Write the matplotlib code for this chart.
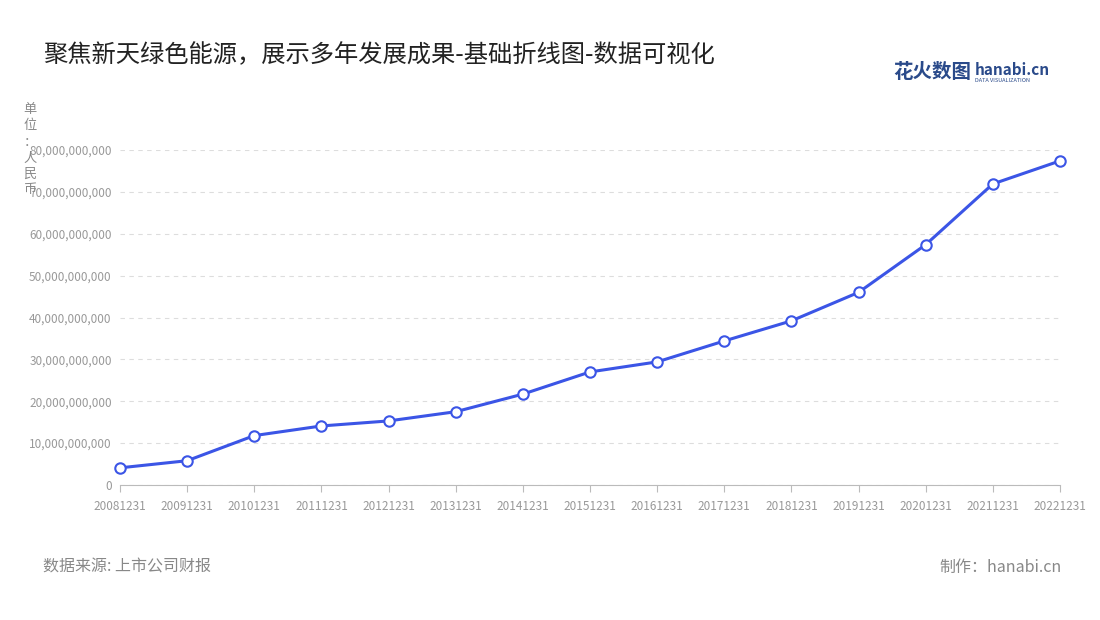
import matplotlib
matplotlib.use("Agg")
import matplotlib.pyplot as plt
from matplotlib.ticker import FuncFormatter

plt.rcParams["font.family"] = ["Noto Sans CJK SC", "DejaVu Sans"]

categories = ["20081231","20091231","20101231","20111231","20121231","20131231","20141231",
              "20151231","20161231","20171231","20181231","20191231","20201231","20211231","20221231"]
values = [4.1e9, 5.8e9, 11.8e9, 14.1e9, 15.3e9, 17.5e9, 21.7e9, 27.0e9, 29.4e9,
          34.4e9, 39.2e9, 46.0e9, 57.4e9, 71.9e9, 77.4e9]
yticks = [0, 1e10, 2e10, 3e10, 4e10, 5e10, 6e10, 7e10, 8e10]

fig = plt.figure(figsize=(11, 6.2), dpi=100)
ax = fig.add_axes([120/1100, 1-485/620, 940/1100, 335/620])
x = list(range(len(categories)))
ax.plot(x, values, color="#3b55e6", lw=2.2, marker="o", ms=7.5,
        markerfacecolor="white", markeredgecolor="#3b55e6", markeredgewidth=1.5, zorder=3, clip_on=False)
ax.set_xlim(0, len(categories)-1)
ax.set_ylim(0, 8e10)
ax.set_yticks(yticks)
ax.yaxis.set_major_formatter(FuncFormatter(lambda v, p: f"{int(v):,}"))
ax.set_xticks(x)
ax.set_xticklabels(categories)
ax.tick_params(axis="both", labelsize=8.5, colors="#999999", length=0, pad=6)
ax.tick_params(axis="x", length=5, color="#bbbbbb")
ax.grid(axis="y", color="#dddddd", ls=(0, (4, 4)), lw=0.8)
for s in ["top", "right", "left"]:
    ax.spines[s].set_visible(False)
ax.spines["bottom"].set_color("#bbbbbb")

fig.text(43/1100, 1-55/620, "聚焦新天绿色能源，展示多年发展成果-基础折线图-数据可视化",
         fontsize=17.5, color="#222222", va="center")
fig.text(30/1100, 1-150/620, "单\n位\n：\n人\n民\n币", fontsize=9.5, color="#888888",
         va="center", ha="center", linespacing=1.3)
fig.text(43/1100, 1-567/620, "数据来源: 上市公司财报", fontsize=11.5, color="#888888", va="center")
fig.text(1062/1100, 1-567/620, "制作：hanabi.cn", fontsize=11.5, color="#888888", va="center", ha="right")
fig.text(893/1100, 1-72/620, "花火数图", fontsize=14, color="#2a4a8a", va="center", fontweight="bold")
fig.text(975/1100, 1-70/620, "hanabi.cn", fontsize=11, color="#2a4a8a", va="center", fontweight="bold")
fig.text(975/1100, 1-80/620, "DATA VISUALIZATION", fontsize=4, color="#2a4a8a", va="center")
fig.savefig("out.png", dpi=100)
